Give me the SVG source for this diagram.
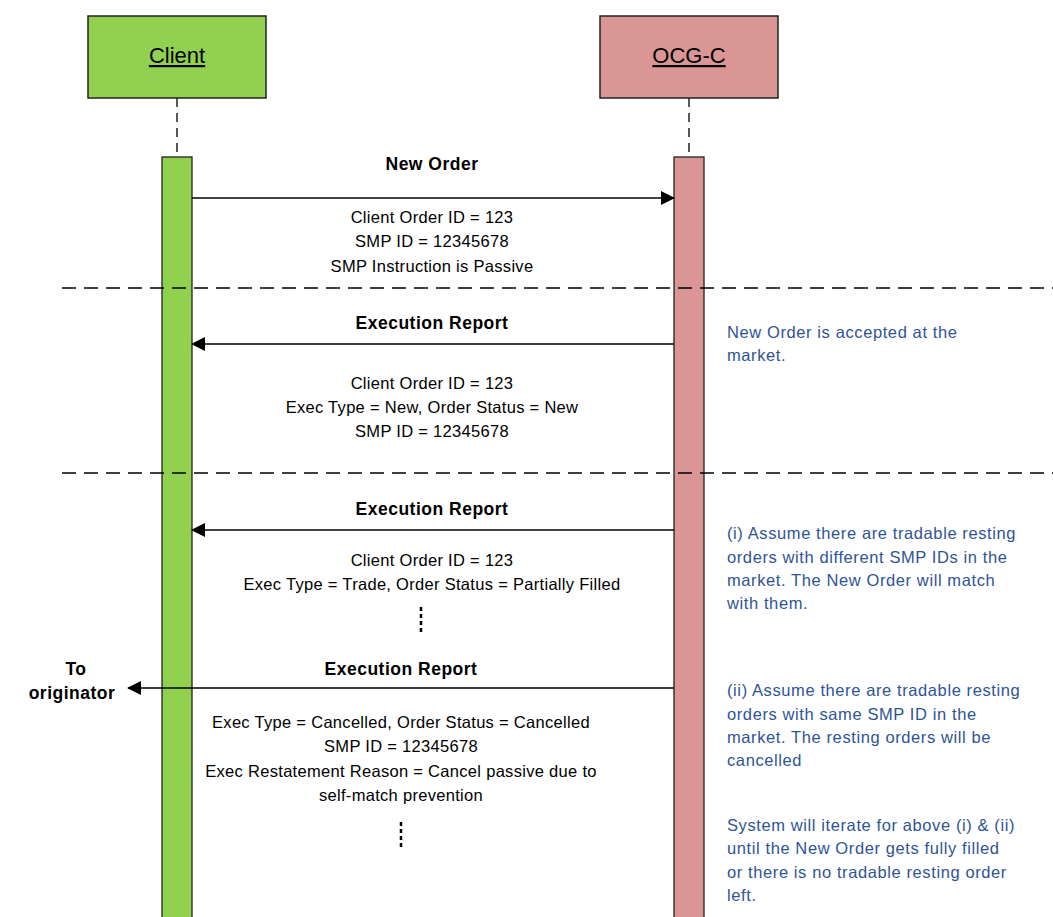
<svg xmlns="http://www.w3.org/2000/svg" width="1053" height="917" viewBox="0 0 1053 917">
<style>
.hdr{font-family:"Liberation Sans",Arial,sans-serif;font-size:22px;fill:#000;text-anchor:middle;text-decoration:underline}
.lbl{font-family:"Liberation Sans",Arial,sans-serif;font-size:17.5px;font-weight:bold;fill:#000;text-anchor:middle;letter-spacing:0.5px}
.txt{font-family:"Liberation Sans",Arial,sans-serif;font-size:16.5px;fill:#000;text-anchor:middle;letter-spacing:0.3px}
.note{font-family:"Liberation Sans",Arial,sans-serif;font-size:16.5px;fill:#2f5496;letter-spacing:0.6px}
.life{stroke:#222;stroke-width:1.5;stroke-dasharray:9,6;fill:none}
.sep{stroke:#000;stroke-width:1.5;stroke-dasharray:14,8;fill:none}
.msg{stroke:#000;stroke-width:1.3;fill:none}
.dots{stroke:#000;stroke-width:2.5;stroke-dasharray:4,3;fill:none}
</style>
<defs>
<marker id="ah" markerWidth="14" markerHeight="14" refX="13" refY="7" orient="auto" markerUnits="userSpaceOnUse">
<path d="M0,0 L14,7 L0,14 Z" fill="#000"/>
</marker>
</defs>
<rect width="1053" height="917" fill="#fff"/>
<g id="client">
<rect x="88" y="16" width="178" height="82" fill="#92d050" stroke="#222" stroke-width="1.5"/>
<text class="hdr" x="177" y="63">Client</text>
<line class="life" x1="177" y1="98" x2="177" y2="157"/>
<rect x="162" y="157" width="30" height="770" fill="#92d050" stroke="#222" stroke-width="1.3"/>
</g>
<g id="ocg">
<rect x="600" y="16" width="178" height="82" fill="#da9694" stroke="#222" stroke-width="1.5"/>
<text class="hdr" x="689" y="63">OCG-C</text>
<line class="life" x1="689" y1="98" x2="689" y2="157"/>
<rect x="674" y="157" width="30" height="770" fill="#da9694" stroke="#222" stroke-width="1.3"/>
</g>
<g id="separators">
<line class="sep" x1="62" y1="288" x2="1053" y2="288"/>
<line class="sep" x1="62" y1="473" x2="1053" y2="473"/>
</g>
<g id="connectors">
<line class="msg" x1="192" y1="198" x2="674" y2="198" marker-end="url(#ah)"/>
<line class="msg" x1="674" y1="344" x2="192" y2="344" marker-end="url(#ah)"/>
<line class="msg" x1="674" y1="530" x2="192" y2="530" marker-end="url(#ah)"/>
<line class="msg" x1="674" y1="688" x2="128" y2="688" marker-end="url(#ah)"/>
<line class="dots" x1="421" y1="607" x2="421" y2="632"/>
<line class="dots" x1="401" y1="822" x2="401" y2="847"/>
</g>
<g id="msg1">
<text class="lbl" x="432" y="170">New Order</text>
<text class="txt" x="432" y="223">Client Order ID = 123</text>
<text class="txt" x="432" y="247">SMP ID = 12345678</text>
<text class="txt" x="432" y="272">SMP Instruction is Passive</text>
</g>
<g id="msg2">
<text class="lbl" x="432" y="329">Execution Report</text>
<text class="txt" x="432" y="389">Client Order ID = 123</text>
<text class="txt" x="432" y="413">Exec Type = New, Order Status = New</text>
<text class="txt" x="432" y="437">SMP ID = 12345678</text>
</g>
<g id="msg3">
<text class="lbl" x="432" y="515">Execution Report</text>
<text class="txt" x="432" y="566">Client Order ID = 123</text>
<text class="txt" x="432" y="590">Exec Type = Trade, Order Status = Partially Filled</text>
</g>
<g id="msg4">
<text class="lbl" x="401" y="675">Execution Report</text>
<text class="lbl" x="76" y="675">To</text>
<text class="lbl" x="72" y="699">originator</text>
<text class="txt" x="401" y="728">Exec Type = Cancelled, Order Status = Cancelled</text>
<text class="txt" x="401" y="752">SMP ID = 12345678</text>
<text class="txt" x="401" y="777">Exec Restatement Reason = Cancel passive due to</text>
<text class="txt" x="401" y="801">self-match prevention</text>
</g>
<g id="notes">
<text class="note" x="727" y="338">New Order is accepted at the</text>
<text class="note" x="727" y="361">market.</text>
<text class="note" x="727" y="539">(i) Assume there are tradable resting</text>
<text class="note" x="727" y="563">orders with different SMP IDs in the</text>
<text class="note" x="727" y="586">market. The New Order will match</text>
<text class="note" x="727" y="609">with them.</text>
<text class="note" x="727" y="696">(ii) Assume there are tradable resting</text>
<text class="note" x="727" y="720">orders with same SMP ID in the</text>
<text class="note" x="727" y="743">market. The resting orders will be</text>
<text class="note" x="727" y="766">cancelled</text>
<text class="note" x="727" y="831">System will iterate for above (i) &amp; (ii)</text>
<text class="note" x="727" y="854">until the New Order gets fully filled</text>
<text class="note" x="727" y="878">or there is no tradable resting order</text>
<text class="note" x="727" y="901">left.</text>
</g>
</svg>
